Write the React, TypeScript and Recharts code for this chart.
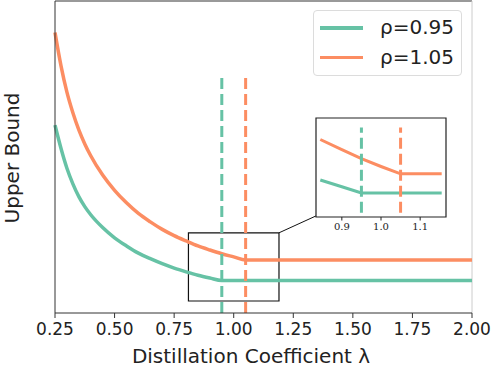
import React from 'react';
import { LineChart, Line, XAxis, YAxis, ReferenceArea, ReferenceLine, Legend, Label } from 'recharts';

// main panel
const lambdas = [0.25, 0.275, 0.3, 0.325, 0.35, 0.375, 0.4, 0.45, 0.5, 0.55, 0.6, 0.65, 0.7, 0.75, 0.8, 0.85, 0.9, 0.95, 1.0, 1.05, 2.0];
const boundRho095 = [6.02, 5.28, 4.64, 4.14, 3.73, 3.41, 3.15, 2.74, 2.41, 2.15, 1.92, 1.74, 1.58, 1.44, 1.32, 1.21, 1.12, 1.04, 1.04, 1.04, 1.04];
const boundRho105 = [8.99, 7.93, 7.08, 6.42, 5.87, 5.42, 5.04, 4.42, 3.93, 3.53, 3.19, 2.92, 2.68, 2.48, 2.31, 2.15, 2.02, 1.9, 1.8, 1.7, 1.7];
const xTicks = [0.25, 0.5, 0.75, 1.0, 1.25, 1.5, 1.75, 2.0];
const rhoValues = [0.95, 1.05];
const markerTop = 7.63;

// zoom box + inset
const zoomBox = { x1: 0.81, x2: 1.19, y1: 0.385, y2: 2.57 };
const insetLambdas = [0.845, 0.9, 0.95, 1.0, 1.05, 1.155];
const insetRho095 = [3.74, 3.06, 2.42, 2.42, 2.42, 2.42];
const insetRho105 = [7.83, 6.8, 5.89, 5.1, 4.36, 4.36];
const insetTicks = [0.9, 1.0, 1.1];
const insetDomain = [0.834, 1.166];

const GREEN = '#66c2a5';
const ORANGE = '#fc8d62';
const FONT = 'DejaVu Sans, sans-serif';

const toPoints = (xs: number[], ys: number[]) => xs.map((x, i) => ({ x, y: ys[i] }));

const rho095Data = toPoints(lambdas, boundRho095);
const rho105Data = toPoints(lambdas, boundRho105);
const insetData095 = toPoints(insetLambdas, insetRho095);
const insetData105 = toPoints(insetLambdas, insetRho105);

const renderLegend = (props: any) => {
  const items = (props.payload || []).filter((p: any) => p.type !== 'none');
  return (
    <div
      style={{
        width: 149,
        height: 66,
        border: '1px solid #dcdcdc',
        borderRadius: 4,
        background: '#fff',
        boxSizing: 'border-box',
        paddingTop: 2,
        fontFamily: FONT,
      }}
    >
      {items.map((it: any) => (
        <div key={it.value} style={{ display: 'flex', alignItems: 'center', height: 29.6 }}>
          <div style={{ marginLeft: 6, width: 43, height: 3.5, background: it.color }} />
          <span style={{ marginLeft: 17, fontSize: 20, color: '#222', lineHeight: '29px' }}>{it.value}</span>
        </div>
      ))}
    </div>
  );
};

const Inset = () => (
  <div style={{ position: 'absolute', left: 315, top: 117 }}>
    <LineChart width={132} height={121} margin={{ top: 1, right: 1, left: 1, bottom: 0 }}>
      <XAxis
        dataKey="x"
        type="number"
        domain={insetDomain}
        ticks={insetTicks}
        tickFormatter={(v: number) => v.toFixed(1)}
        height={21}
        axisLine={false}
        tickSize={3.5}
        tickMargin={2}
        tick={{ fontSize: 10, fill: '#222', fontFamily: 'DejaVu Serif, serif' }}
        stroke="#222"
        allowDataOverflow
      />
      <YAxis type="number" domain={[0, 10]} hide />
      <Line data={insetData095} dataKey="y" stroke={GREEN} strokeWidth={3} dot={false} isAnimationActive={false} />
      <Line data={insetData105} dataKey="y" stroke={ORANGE} strokeWidth={3} dot={false} isAnimationActive={false} />
      {rhoValues.map((r, i) => (
        <Line
          key={r}
          data={[{ x: r, y: 0.44 }, { x: r, y: 9.05 }]}
          dataKey="y"
          stroke={i === 0 ? GREEN : ORANGE}
          strokeWidth={3}
          strokeDasharray="11 5"
          dot={false}
          isAnimationActive={false}
        />
      ))}
      <ReferenceArea x1={insetDomain[0]} x2={insetDomain[1]} y1={0} y2={10} fill="none" stroke="#222" strokeWidth={1.2} />
    </LineChart>
  </div>
);

export default function App() {
  return (
    <div style={{ position: 'fixed', left: 0, top: 0, width: 500, height: 368, background: '#fff', fontFamily: FONT }}>
      <LineChart width={500} height={368} margin={{ top: 1, right: 28, left: 0, bottom: 0 }}>
        <XAxis
          dataKey="x"
          type="number"
          domain={[0.25, 2]}
          ticks={xTicks}
          tickFormatter={(v: number) => v.toFixed(2)}
          height={55}
          stroke="#333"
          tickSize={5}
          tickMargin={5}
          tick={{ fontSize: 17, fill: '#222', fontFamily: FONT }}
        >
          <Label
            content={() => (
              <text x={251} y={363} textAnchor="middle" fontSize={20} fill="#222" fontFamily={FONT}>
                Distillation Coefficient λ
              </text>
            )}
          />
        </XAxis>
        <YAxis type="number" domain={[0, 10]} width={55} tick={false} tickLine={false} stroke="#333">
          <Label
            content={() => (
              <text x={19} y={158} transform="rotate(-90, 19, 158)" textAnchor="middle" fontSize={20} fill="#222" fontFamily={FONT}>
                Upper Bound
              </text>
            )}
          />
        </YAxis>
        <ReferenceLine y={10} stroke="#777" strokeWidth={1.5} />
        <ReferenceLine x={2} stroke="#ccc" strokeWidth={1} />
        <Line data={rho095Data} dataKey="y" name="ρ=0.95" type="monotone" stroke={GREEN} strokeWidth={3.5} dot={false} isAnimationActive={false} />
        <Line data={rho105Data} dataKey="y" name="ρ=1.05" type="monotone" stroke={ORANGE} strokeWidth={3.5} dot={false} isAnimationActive={false} />
        {rhoValues.map((r, i) => (
          <Line
            key={r}
            data={[{ x: r, y: 0 }, { x: r, y: markerTop }]}
            dataKey="y"
            legendType="none"
            stroke={i === 0 ? GREEN : ORANGE}
            strokeWidth={3}
            strokeDasharray="11 5"
            dot={false}
            isAnimationActive={false}
          />
        ))}
        <ReferenceArea {...zoomBox} fill="none" stroke="#111" strokeWidth={1.2} />
        <ReferenceLine
          segment={[{ x: zoomBox.x2, y: zoomBox.y2 }, { x: 1.345, y: 3.11 }]}
          stroke="#111"
          strokeWidth={1}
          ifOverflow="visible"
        />
        <Legend
          content={renderLegend}
          layout="horizontal"
          verticalAlign="middle"
          align="center"
          wrapperStyle={{ position: 'absolute', left: 313, top: 10, width: 149, height: 66 }}
        />
      </LineChart>
      <Inset />
    </div>
  );
}
